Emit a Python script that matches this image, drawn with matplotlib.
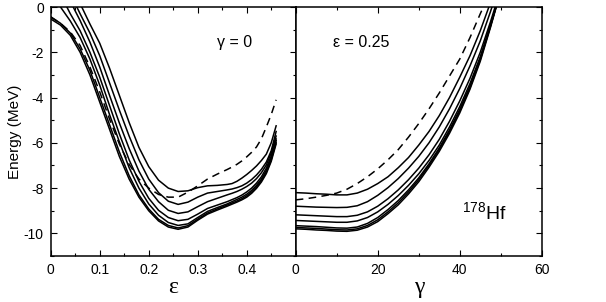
"""Potential energy curves of 178Hf vs deformation (eps at gamma=0, gamma at eps=0.25)."""

import matplotlib
matplotlib.use("Agg")
import matplotlib.pyplot as plt
from matplotlib.ticker import MultipleLocator

plt.rcParams["font.family"] = ["Liberation Sans", "DejaVu Sans"]
plt.rcParams["axes.unicode_minus"] = False
plt.rcParams["mathtext.fontset"] = "custom"
plt.rcParams["mathtext.rm"] = "Liberation Sans"
plt.rcParams["mathtext.default"] = "regular"

# ---- left panel: energy vs eps (gamma = 0) ----
EPS = [0.00, 0.02, 0.04, 0.06, 0.08, 0.10, 0.12, 0.14, 0.16, 0.18, 0.20, 0.22,
       0.24, 0.26, 0.28, 0.30, 0.32, 0.34, 0.36,
       0.37, 0.38, 0.39, 0.40, 0.41, 0.42, 0.43, 0.44, 0.45, 0.46]

E_EPS_1 = [2.7, 1.9, 1.1, 0.15, -0.75, -1.6, -2.7, -3.9, -5.1, -6.2, -7.05, -7.65,
           -8.0, -8.15, -8.12, -7.98, -7.9, -7.88, -7.84,
           -7.8, -7.7, -7.56, -7.4, -7.22, -7.02, -6.78, -6.5, -6.0, -5.25]
E_EPS_2 = [2.3, 1.45, 0.6, -0.3, -1.15, -2.15, -3.35, -4.55, -5.7, -6.75, -7.6, -8.2,
           -8.58, -8.72, -8.62, -8.4, -8.22, -8.15, -8.08,
           -8.04, -7.98, -7.9, -7.78, -7.62, -7.42, -7.17, -6.85, -6.35, -5.5]
E_EPS_3 = [2.0, 1.1, 0.25, -0.6, -1.55, -2.65, -3.9, -5.12, -6.25, -7.25, -8.05, -8.6,
           -8.98, -9.12, -9.05, -8.82, -8.6, -8.45, -8.3,
           -8.23, -8.15, -8.05, -7.93, -7.78, -7.58, -7.32, -6.98, -6.45, -5.7]
E_EPS_4 = [1.6, 0.55, -0.3, -1.05, -2.0, -3.1, -4.35, -5.6, -6.75, -7.7, -8.45, -8.98,
           -9.3, -9.44, -9.38, -9.15, -8.9, -8.75, -8.6,
           -8.51, -8.42, -8.31, -8.17, -8.0, -7.78, -7.5, -7.12, -6.58, -5.83]
E_EPS_5 = [0.8, 0.0, -0.62, -1.35, -2.3, -3.45, -4.75, -5.95, -7.1, -8.0, -8.7, -9.2,
           -9.52, -9.65, -9.58, -9.3, -9.03, -8.86, -8.7,
           -8.6, -8.5, -8.4, -8.27, -8.1, -7.88, -7.6, -7.22, -6.68, -5.9]
E_EPS_6 = [-0.43, -0.72, -1.15, -1.85, -2.8, -4.0, -5.2, -6.4, -7.45, -8.3, -8.92, -9.38,
           -9.65, -9.76, -9.66, -9.37, -9.1, -8.92, -8.75,
           -8.66, -8.57, -8.47, -8.34, -8.17, -7.95, -7.67, -7.3, -6.75, -5.98]
E_EPS_7 = [-0.53, -0.8, -1.25, -2.0, -3.0, -4.2, -5.4, -6.6, -7.6, -8.4, -9.0, -9.45,
           -9.72, -9.82, -9.72, -9.42, -9.15, -8.97, -8.8,
           -8.71, -8.62, -8.52, -8.4, -8.23, -8.01, -7.73, -7.36, -6.82, -6.05]
E_EPS_DASH = [-0.45, -0.72, -1.1, -1.7, -2.65, -3.75, -4.95, -6.05, -6.95, -7.6, -8.0, -8.28,
              -8.4, -8.4, -8.18, -7.9, -7.6, -7.38, -7.18,
              -7.07, -6.95, -6.8, -6.62, -6.42, -6.18, -5.82, -5.3, -4.75, -4.1]

# ---- right panel: energy vs gamma (eps = 0.25) ----
GAMMA = [0, 2.5, 5, 7.5, 10, 12.5, 15, 17.5, 20, 22.5, 25, 27.5,
         30, 32.5, 35, 37.5, 40, 42.5, 45, 47.5, 50]

E_GAM_1 = [-8.2, -8.22, -8.25, -8.27, -8.3, -8.3, -8.22, -8.05, -7.8, -7.5, -7.1, -6.65,
           -6.1, -5.5, -4.8, -4.0, -3.1, -2.15, -1.05, 0.2, 1.5]
E_GAM_2 = [-8.8, -8.82, -8.84, -8.85, -8.86, -8.85, -8.78, -8.6, -8.32, -7.98, -7.58, -7.12,
           -6.6, -6.0, -5.3, -4.5, -3.6, -2.6, -1.5, -0.2, 1.2]
E_GAM_3 = [-9.18, -9.2, -9.22, -9.24, -9.26, -9.26, -9.2, -9.05, -8.8, -8.47, -8.08, -7.63,
           -7.12, -6.53, -5.85, -5.05, -4.15, -3.15, -2.0, -0.65, 0.8]
E_GAM_4 = [-9.43, -9.45, -9.47, -9.49, -9.51, -9.51, -9.45, -9.3, -9.05, -8.72, -8.33, -7.88,
           -7.37, -6.78, -6.1, -5.3, -4.4, -3.38, -2.2, -0.8, 0.7]
E_GAM_5 = [-9.66, -9.68, -9.7, -9.73, -9.76, -9.77, -9.72, -9.56, -9.3, -8.95, -8.55, -8.08,
           -7.55, -6.93, -6.23, -5.43, -4.52, -3.5, -2.28, -0.82, 0.7]
E_GAM_6 = [-9.74, -9.76, -9.78, -9.81, -9.84, -9.85, -9.8, -9.65, -9.4, -9.05, -8.65, -8.17,
           -7.63, -7.0, -6.3, -5.5, -4.6, -3.56, -2.33, -0.85, 0.75]
E_GAM_7 = [-9.8, -9.82, -9.85, -9.87, -9.9, -9.91, -9.86, -9.72, -9.48, -9.13, -8.74, -8.26,
           -7.72, -7.08, -6.38, -5.58, -4.68, -3.63, -2.4, -0.9, 0.7]
E_GAM_DASH = [-8.52, -8.47, -8.4, -8.32, -8.22, -8.05, -7.8, -7.5, -7.15, -6.75, -6.3, -5.75,
              -5.15, -4.5, -3.8, -3.05, -2.3, -1.35, -0.3, 0.7, 1.8]

EPS_CURVES = [E_EPS_1, E_EPS_2, E_EPS_3, E_EPS_4, E_EPS_5, E_EPS_6, E_EPS_7]
GAM_CURVES = [E_GAM_1, E_GAM_2, E_GAM_3, E_GAM_4, E_GAM_5, E_GAM_6, E_GAM_7]

LW = 1.1
DASH = (0, (5, 3.5))
SERIF = ["Liberation Serif", "DejaVu Serif"]


def _style(ax):
    ax.set_ylim(-11, 0)
    ax.yaxis.set_major_locator(MultipleLocator(2))
    ax.yaxis.set_minor_locator(MultipleLocator(1))
    ax.tick_params(which="both", direction="in", top=True, right=True, width=0.8,
                   labelsize=10, pad=5)
    ax.tick_params(which="major", length=4)
    ax.tick_params(which="minor", length=2.5)
    for s in ax.spines.values():
        s.set_linewidth(1.1)


fig = plt.figure(figsize=(6.06, 3.02), dpi=100)
ax1 = fig.add_axes([0.0837, 0.1523, 0.4043, 0.8245])
ax2 = fig.add_axes([0.488, 0.1523, 0.406, 0.8245])

for e in EPS_CURVES:
    ax1.plot(EPS, e, color="black", lw=LW)
ax1.plot(EPS, E_EPS_DASH, color="black", lw=LW, ls=DASH)
_style(ax1)
ax1.set_xlim(0, 0.5)
ax1.set_xticks([0, 0.1, 0.2, 0.3, 0.4, 0.5])
ax1.set_xticklabels(["0", "0.1", "0.2", "0.3", "0.4", ""])
ax1.xaxis.set_minor_locator(MultipleLocator(0.05))
ax1.set_yticks([0, -2, -4, -6, -8, -10])
ax1.set_yticklabels(["0", "-2", "-4", "-6", "-8", "-10"])
ax1.set_ylabel("Energy (MeV)", fontsize=11, labelpad=1)
ax1.set_xlabel("ε", fontsize=17, family=SERIF, labelpad=0)
ax1.text(0.34, -1.75, "γ = 0", fontsize=11.5)

for e in GAM_CURVES:
    ax2.plot(GAMMA, e, color="black", lw=LW)
ax2.plot(GAMMA, E_GAM_DASH, color="black", lw=LW, ls=DASH)
_style(ax2)
ax2.tick_params(which="both", left=False, labelleft=False)
ax2.set_xlim(0, 60)
ax2.set_xticks([0, 20, 40, 60])
ax2.xaxis.set_minor_locator(MultipleLocator(10))
ax2.set_xlabel("γ", fontsize=17, family=SERIF, labelpad=0)
ax2.text(9.0, -1.75, "ε = 0.25", fontsize=11.5)
ax2.text(40.5, -9.35, "$^{178}$Hf", fontsize=14)

fig.savefig("out.png", dpi=100)
